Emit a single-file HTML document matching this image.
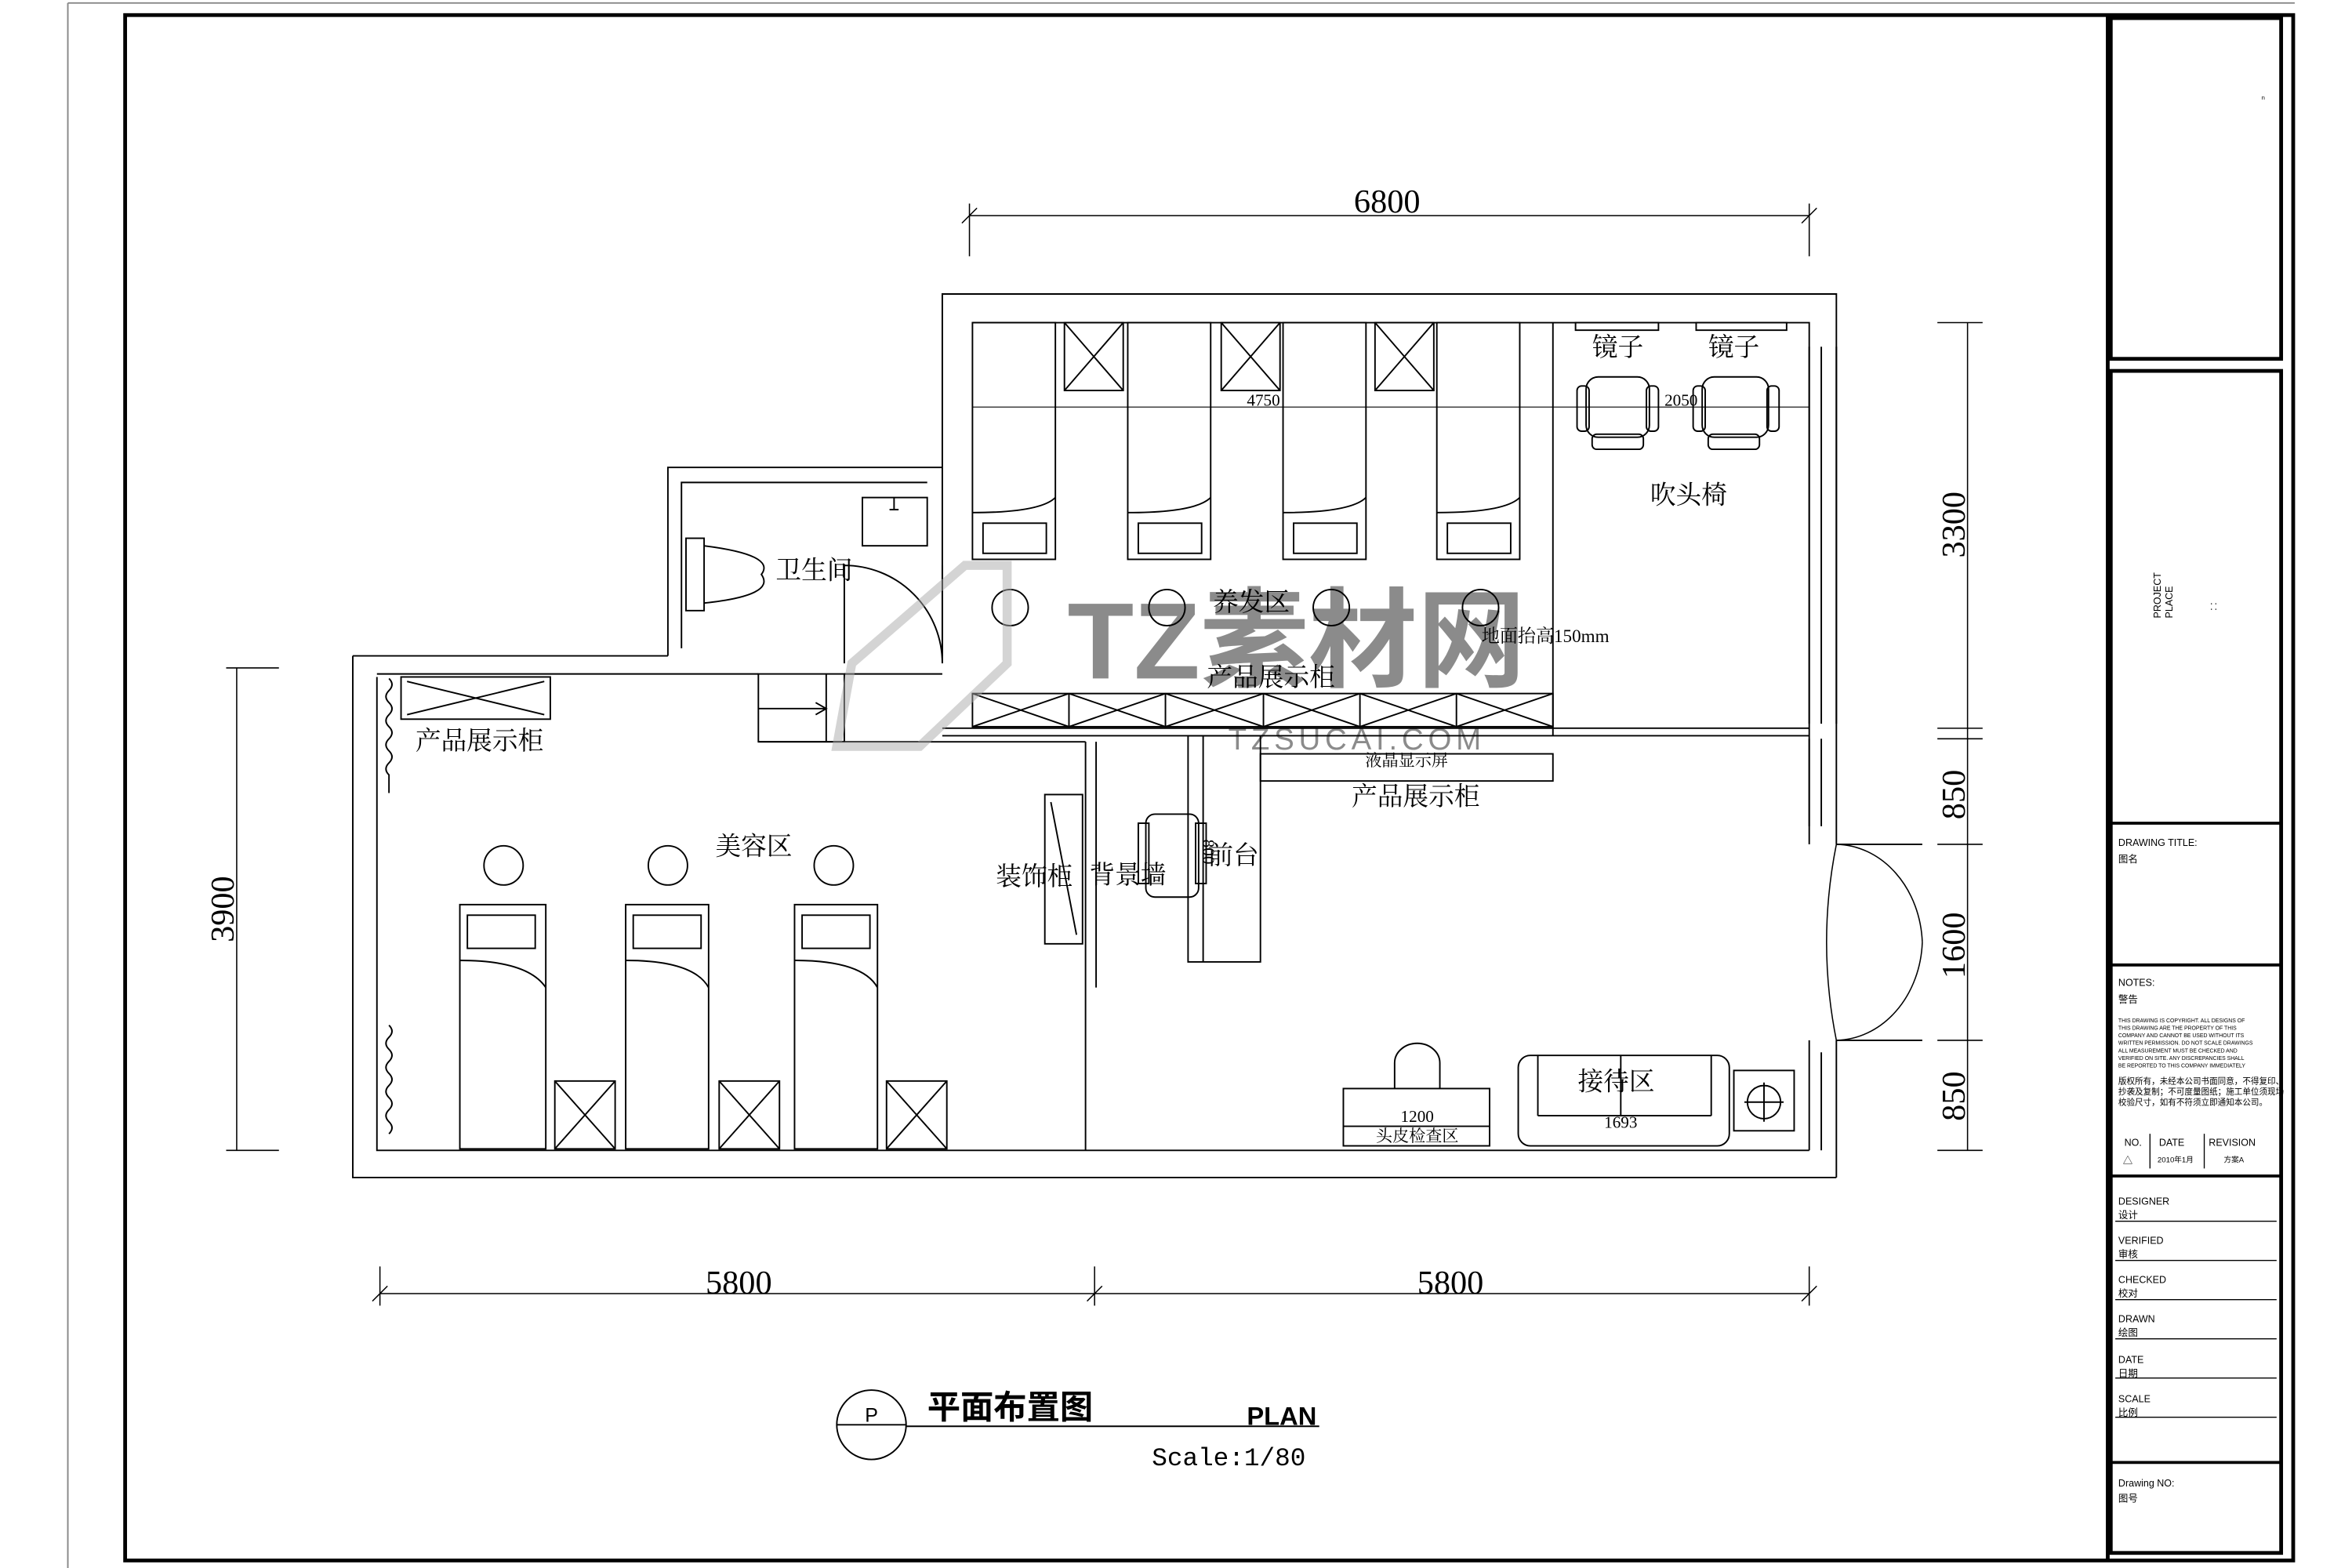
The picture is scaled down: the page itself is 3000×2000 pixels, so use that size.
<!DOCTYPE html>
<html><head><meta charset="utf-8"><style>
html,body{margin:0;padding:0;background:#fff}
svg{display:block}
text{font-family:"Liberation Sans","Noto Sans CJK SC",sans-serif;fill:#000}
.s{font-family:"Liberation Serif","Noto Serif CJK SC",serif}
</style></head><body>
<svg width="3000" height="2000" viewBox="0 0 1560 1040" preserveAspectRatio="none" xmlns="http://www.w3.org/2000/svg">
<g fill="none" stroke="#000" stroke-width="1">
<line x1="45" y1="2" x2="1522" y2="2" stroke="#888"/>
<line x1="45" y1="2" x2="45" y2="1043" stroke="#888"/>
<rect x="83" y="10" width="1438" height="1025" stroke-width="2.5"/>
<line x1="1398" y1="10" x2="1398" y2="1035" stroke-width="2.5"/>
<rect x="1400" y="12" width="113" height="226" stroke-width="2.5"/>
<rect x="1400" y="246" width="113" height="784" stroke-width="2.5"/>
<line x1="1400" y1="546" x2="1513" y2="546" stroke-width="2"/>
<line x1="1400" y1="640" x2="1513" y2="640" stroke-width="2"/>
<line x1="1400" y1="780" x2="1513" y2="780" stroke-width="2"/>
<line x1="1400" y1="970" x2="1513" y2="970" stroke-width="2"/>
<g stroke-width="0.7"><line x1="1403" y1="810" x2="1510" y2="810"/><line x1="1403" y1="836" x2="1510" y2="836"/><line x1="1403" y1="862" x2="1510" y2="862"/><line x1="1403" y1="888" x2="1510" y2="888"/><line x1="1403" y1="914" x2="1510" y2="914"/><line x1="1403" y1="940" x2="1510" y2="940"/>
<line x1="1426" y1="752" x2="1426" y2="775"/><line x1="1462" y1="752" x2="1462" y2="775"/></g>

<path d="M625 435 V195 H1218 V560"/>
<path d="M645 214 H1200 V560"/>
<path d="M1200 230 V480 M1208 230 V480 M1218 230 V480 M1200 490 V548 M1208 490 V548 M1218 690 V781 M1200 690 V763 M1208 698 V763"/>
<path d="M1218 690 H1275 M1218 560 H1275"/>
<path d="M1218 560 A58 68 0 0 1 1275 625 M1218 690 A58 68 0 0 0 1275 625 M1218 560 Q1205 625 1218 690" stroke-width="0.8"/>
<path d="M234 435 V781 H1218 M250 449 V763 H1200 M234 435 H443 M250 447 H503"/>
<path d="M443 435 V310 H625 M452 430 V320 H615"/>
<path d="M625 483 H1200 M625 488 H1200 M560 447 H625 M503 492 H720"/>
<rect x="572" y="330" width="43" height="32"/><path d="M593 330 v8 M590 338 h6"/>
<rect x="455" y="357" width="12" height="48"/><path d="M467 362 Q515 368 505 381 Q515 395 467 400"/>
<path d="M560 440 V375 A65 65 0 0 1 625 440 M625 375 V440"/>
<rect x="503" y="447" width="57" height="45"/><path d="M503 470 H548 M541 466 l7 4 -7 4 M548 447 V492"/>
<g>
<rect x="645" y="214" width="55" height="157"/><rect x="748" y="214" width="55" height="157"/><rect x="851" y="214" width="55" height="157"/><rect x="953" y="214" width="55" height="157"/>
<rect x="652" y="347" width="42" height="20"/><rect x="755" y="347" width="42" height="20"/><rect x="858" y="347" width="42" height="20"/><rect x="960" y="347" width="42" height="20"/>
<path d="M645 340 Q690 340 700 330 M748 340 Q793 340 803 330 M851 340 Q896 340 906 330 M953 340 Q998 340 1008 330"/>
<rect x="706" y="214" width="39" height="45"/><path d="M706 214 L745 259 M745 214 L706 259"/>
<rect x="810" y="214" width="39" height="45"/><path d="M810 214 L849 259 M849 214 L810 259"/>
<rect x="912" y="214" width="39" height="45"/><path d="M912 214 L951 259 M951 214 L912 259"/>
<path d="M645 270 H1200" stroke-width="0.6"/>
<circle cx="670" cy="403" r="12"/><circle cx="774" cy="403" r="12"/><circle cx="883" cy="403" r="12"/><circle cx="982" cy="403" r="12"/>
<rect x="645" y="460" width="385" height="22"/>
<path d="M709 460 V482 M773 460 V482 M838 460 V482 M902 460 V482 M966 460 V482 M645 460 L709 482 M709 460 L645 482 M709 460 L773 482 M773 460 L709 482 M773 460 L838 482 M838 460 L773 482 M838 460 L902 482 M902 460 L838 482 M902 460 L966 482 M966 460 L902 482 M966 460 L1030 482 M1030 460 L966 482"/>
<path d="M1030 214 V488"/>
<rect x="1045" y="214" width="55" height="5"/><rect x="1125" y="214" width="60" height="5"/>
<rect x="1052" y="250" width="42" height="40" rx="8"/><rect x="1046" y="256" width="8" height="30" rx="3"/><rect x="1092" y="256" width="8" height="30" rx="3"/><rect x="1056" y="288" width="34" height="10" rx="3"/>
<rect x="1129" y="250" width="44" height="40" rx="8"/><rect x="1123" y="256" width="8" height="30" rx="3"/><rect x="1172" y="256" width="8" height="30" rx="3"/><rect x="1133" y="288" width="34" height="10" rx="3"/>
</g>
<rect x="266" y="449" width="99" height="28"/><path d="M270 452 L361 474 M361 452 L270 474"/>
<path d="M258 450 q4 4 0 8 q-4 4 0 8 q4 4 0 8 q-4 4 0 8 q4 4 0 8 q-4 4 0 8 q4 4 0 8 q-4 4 0 8 v12 M258 680 q4 4 0 8 q-4 4 0 8 q4 4 0 8 q-4 4 0 8 q4 4 0 8 q-4 4 0 8 q4 4 0 8 q-4 4 0 8 q4 4 0 8"/>
<circle cx="334" cy="574" r="13"/><circle cx="443" cy="574" r="13"/><circle cx="553" cy="574" r="13"/>
<rect x="305" y="600" width="57" height="162"/><rect x="415" y="600" width="55" height="162"/><rect x="527" y="600" width="55" height="162"/>
<rect x="310" y="607" width="45" height="22"/><rect x="420" y="607" width="45" height="22"/><rect x="532" y="607" width="45" height="22"/>
<path d="M305 637 Q350 637 362 655 M415 637 Q460 637 470 655 M527 637 Q572 637 582 655"/>
<rect x="368" y="717" width="40" height="45"/><path d="M368 717 L408 762 M408 717 L368 762"/>
<rect x="477" y="717" width="40" height="45"/><path d="M477 717 L517 762 M517 717 L477 762"/>
<rect x="588" y="717" width="40" height="45"/><path d="M588 717 L628 762 M628 717 L588 762"/>
<path d="M720 492 V763 M727 492 V655"/>
<rect x="693" y="527" width="25" height="99"/><path d="M697 532 L714 620"/>
<rect x="760" y="540" width="35" height="55" rx="6"/><rect x="755" y="546" width="7" height="40"/><rect x="793" y="546" width="7" height="40"/>
<rect x="788" y="488" width="48" height="150"/><path d="M798 488 V638"/>
<rect x="836" y="500" width="194" height="18"/>
<rect x="891" y="722" width="97" height="38"/><path d="M891 747 H988"/>
<path d="M925 722 V705 A15 13 0 0 1 955 705 V722"/>
<rect x="1007" y="700" width="140" height="60" rx="8"/><path d="M1020 740 H1135 M1020 700 V740 M1135 700 V740 M1075 700 V740"/>
<rect x="1150" y="710" width="40" height="40"/><circle cx="1170" cy="731" r="11"/><path d="M1170 718 V744 M1157 731 H1183"/>
<g stroke-width="0.8">
<path d="M643 143 H1200 M643 135 V170 M1200 135 V170 M638 148 L648 138 M1195 148 L1205 138"/>
<path d="M1305 214 V763 M1285 214 H1315 M1285 483 H1315 M1285 490 H1315 M1285 560 H1315 M1285 690 H1315 M1285 763 H1315"/>
<path d="M157 443 V763 M150 443 H185 M150 763 H185"/>
<path d="M252 858 H1200 M252 840 V866 M726 840 V866 M1200 840 V866 M247 863 L257 853 M721 863 L731 853 M1195 863 L1205 853"/>
</g>
<circle cx="578" cy="945" r="23"/><path d="M555 945 H601 M601 946 H875"/>
</g>
<g opacity="0.45">
<text x="860" y="450" font-size="72" font-weight="bold" text-anchor="middle" fill="#999">TZ素材网</text>
<text x="900" y="497" font-size="20" text-anchor="middle" fill="#aaa" letter-spacing="3">TZSUCAI.COM</text>
</g>
<path d="M565 440 L640 375 L668 375 L668 440 L610 495 L555 495 Z" fill="none" stroke="#aaa" stroke-width="6" opacity="0.5"/>
<g class="s" text-anchor="middle">
<text class="s" x="920" y="141" font-size="22">6800</text>
<text class="s" x="490" y="858" font-size="22">5800</text>
<text class="s" x="962" y="858" font-size="22">5800</text>
<text class="s" x="1303" y="348" font-size="22" transform="rotate(-90 1303 348)">3300</text>
<text class="s" x="1303" y="527" font-size="22" transform="rotate(-90 1303 527)">850</text>
<text class="s" x="1303" y="627" font-size="22" transform="rotate(-90 1303 627)">1600</text>
<text class="s" x="1303" y="727" font-size="22" transform="rotate(-90 1303 727)">850</text>
<text class="s" x="155" y="603" font-size="22" transform="rotate(-90 155 603)">3900</text>
<text class="s" x="838" y="269" font-size="11">4750</text>
<text class="s" x="1115" y="269" font-size="11">2050</text>
<text class="s" x="1073" y="236" font-size="17">镜子</text>
<text class="s" x="1150" y="236" font-size="17">镜子</text>
<text class="s" x="1120" y="334" font-size="17">吹头椅</text>
<text class="s" x="540" y="384" font-size="17">卫生间</text>
<text class="s" x="830" y="405" font-size="17">养发区</text>
<text class="s" x="1025" y="426" font-size="12">地面抬高150mm</text>
<text class="s" x="843" y="455" font-size="17">产品展示柜</text>
<text class="s" x="318" y="497" font-size="17">产品展示柜</text>
<text class="s" x="500" y="567" font-size="17">美容区</text>
<text class="s" x="686" y="587" font-size="17">装饰柜</text>
<text class="s" x="748" y="586" font-size="17">背景墙</text>
<text class="s" x="818" y="573" font-size="17">前台</text>
<text class="s" x="798" y="565" font-size="11" transform="rotate(90 798 565)">800</text>
<text class="s" x="933" y="508" font-size="11">液晶显示屏</text>
<text class="s" x="939" y="534" font-size="17">产品展示柜</text>
<text class="s" x="940" y="744" font-size="11">1200</text>
<text class="s" x="940" y="757" font-size="11">头皮检查区</text>
<text class="s" x="1072" y="723" font-size="17">接待区</text>
<text class="s" x="1075" y="748" font-size="11">1693</text>
</g>
<text x="578" y="943" font-size="13" text-anchor="middle">P</text>
<text x="615" y="941" font-size="22" font-weight="bold">平面布置图</text>
<text x="827" y="945" font-size="17" font-weight="bold">PLAN</text>
<text x="764" y="972" font-size="17" style="font-family:'Liberation Mono',monospace">Scale:1/80</text>
<g font-size="6.5">
<text x="1500" y="66" font-size="4">n</text>
<text x="1433" y="410" transform="rotate(-90 1433 410)">PROJECT</text>
<text x="1441" y="410" transform="rotate(-90 1441 410)">PLACE</text>
<text x="1470" y="405" transform="rotate(-90 1470 405)">: :</text>
<text x="1405" y="561">DRAWING TITLE:</text><text x="1405" y="572">图名</text>
<text x="1405" y="654">NOTES:</text><text x="1405" y="665">警告</text>
<g font-size="3.6"><text x="1405" y="678">THIS DRAWING IS COPYRIGHT. ALL DESIGNS OF</text><text x="1405" y="683">THIS DRAWING ARE THE PROPERTY OF THIS</text><text x="1405" y="688">COMPANY AND CANNOT BE USED WITHOUT ITS</text><text x="1405" y="693">WRITTEN PERMISSION. DO NOT SCALE DRAWINGS</text><text x="1405" y="698">ALL MEASUREMENT MUST BE CHECKED AND</text><text x="1405" y="703">VERIFIED ON SITE. ANY DISCREPANCIES SHALL</text><text x="1405" y="708">BE REPORTED TO THIS COMPANY IMMEDIATELY</text></g>
<g font-size="5.5"><text x="1405" y="719">版权所有，未经本公司书面同意，不得复印、</text><text x="1405" y="726">抄袭及复制；不可度量图纸；施工单位须现场</text><text x="1405" y="733">校验尺寸，如有不符须立即通知本公司。</text></g>
<text x="1409" y="760">NO.</text><text x="1432" y="760">DATE</text><text x="1465" y="760">REVISION</text>
<text x="1408" y="772">△</text><text x="1431" y="771" font-size="5">2010年1月</text><text x="1475" y="771" font-size="5">方案A</text>
<text x="1405" y="799">DESIGNER</text><text x="1405" y="808">设计</text>
<text x="1405" y="825">VERIFIED</text><text x="1405" y="834">审核</text>
<text x="1405" y="851">CHECKED</text><text x="1405" y="860">校对</text>
<text x="1405" y="877">DRAWN</text><text x="1405" y="886">绘图</text>
<text x="1405" y="904">DATE</text><text x="1405" y="913">日期</text>
<text x="1405" y="930">SCALE</text><text x="1405" y="939">比例</text>
<text x="1405" y="986">Drawing NO:</text><text x="1405" y="996">图号</text>
</g>
</svg>
</body></html>
